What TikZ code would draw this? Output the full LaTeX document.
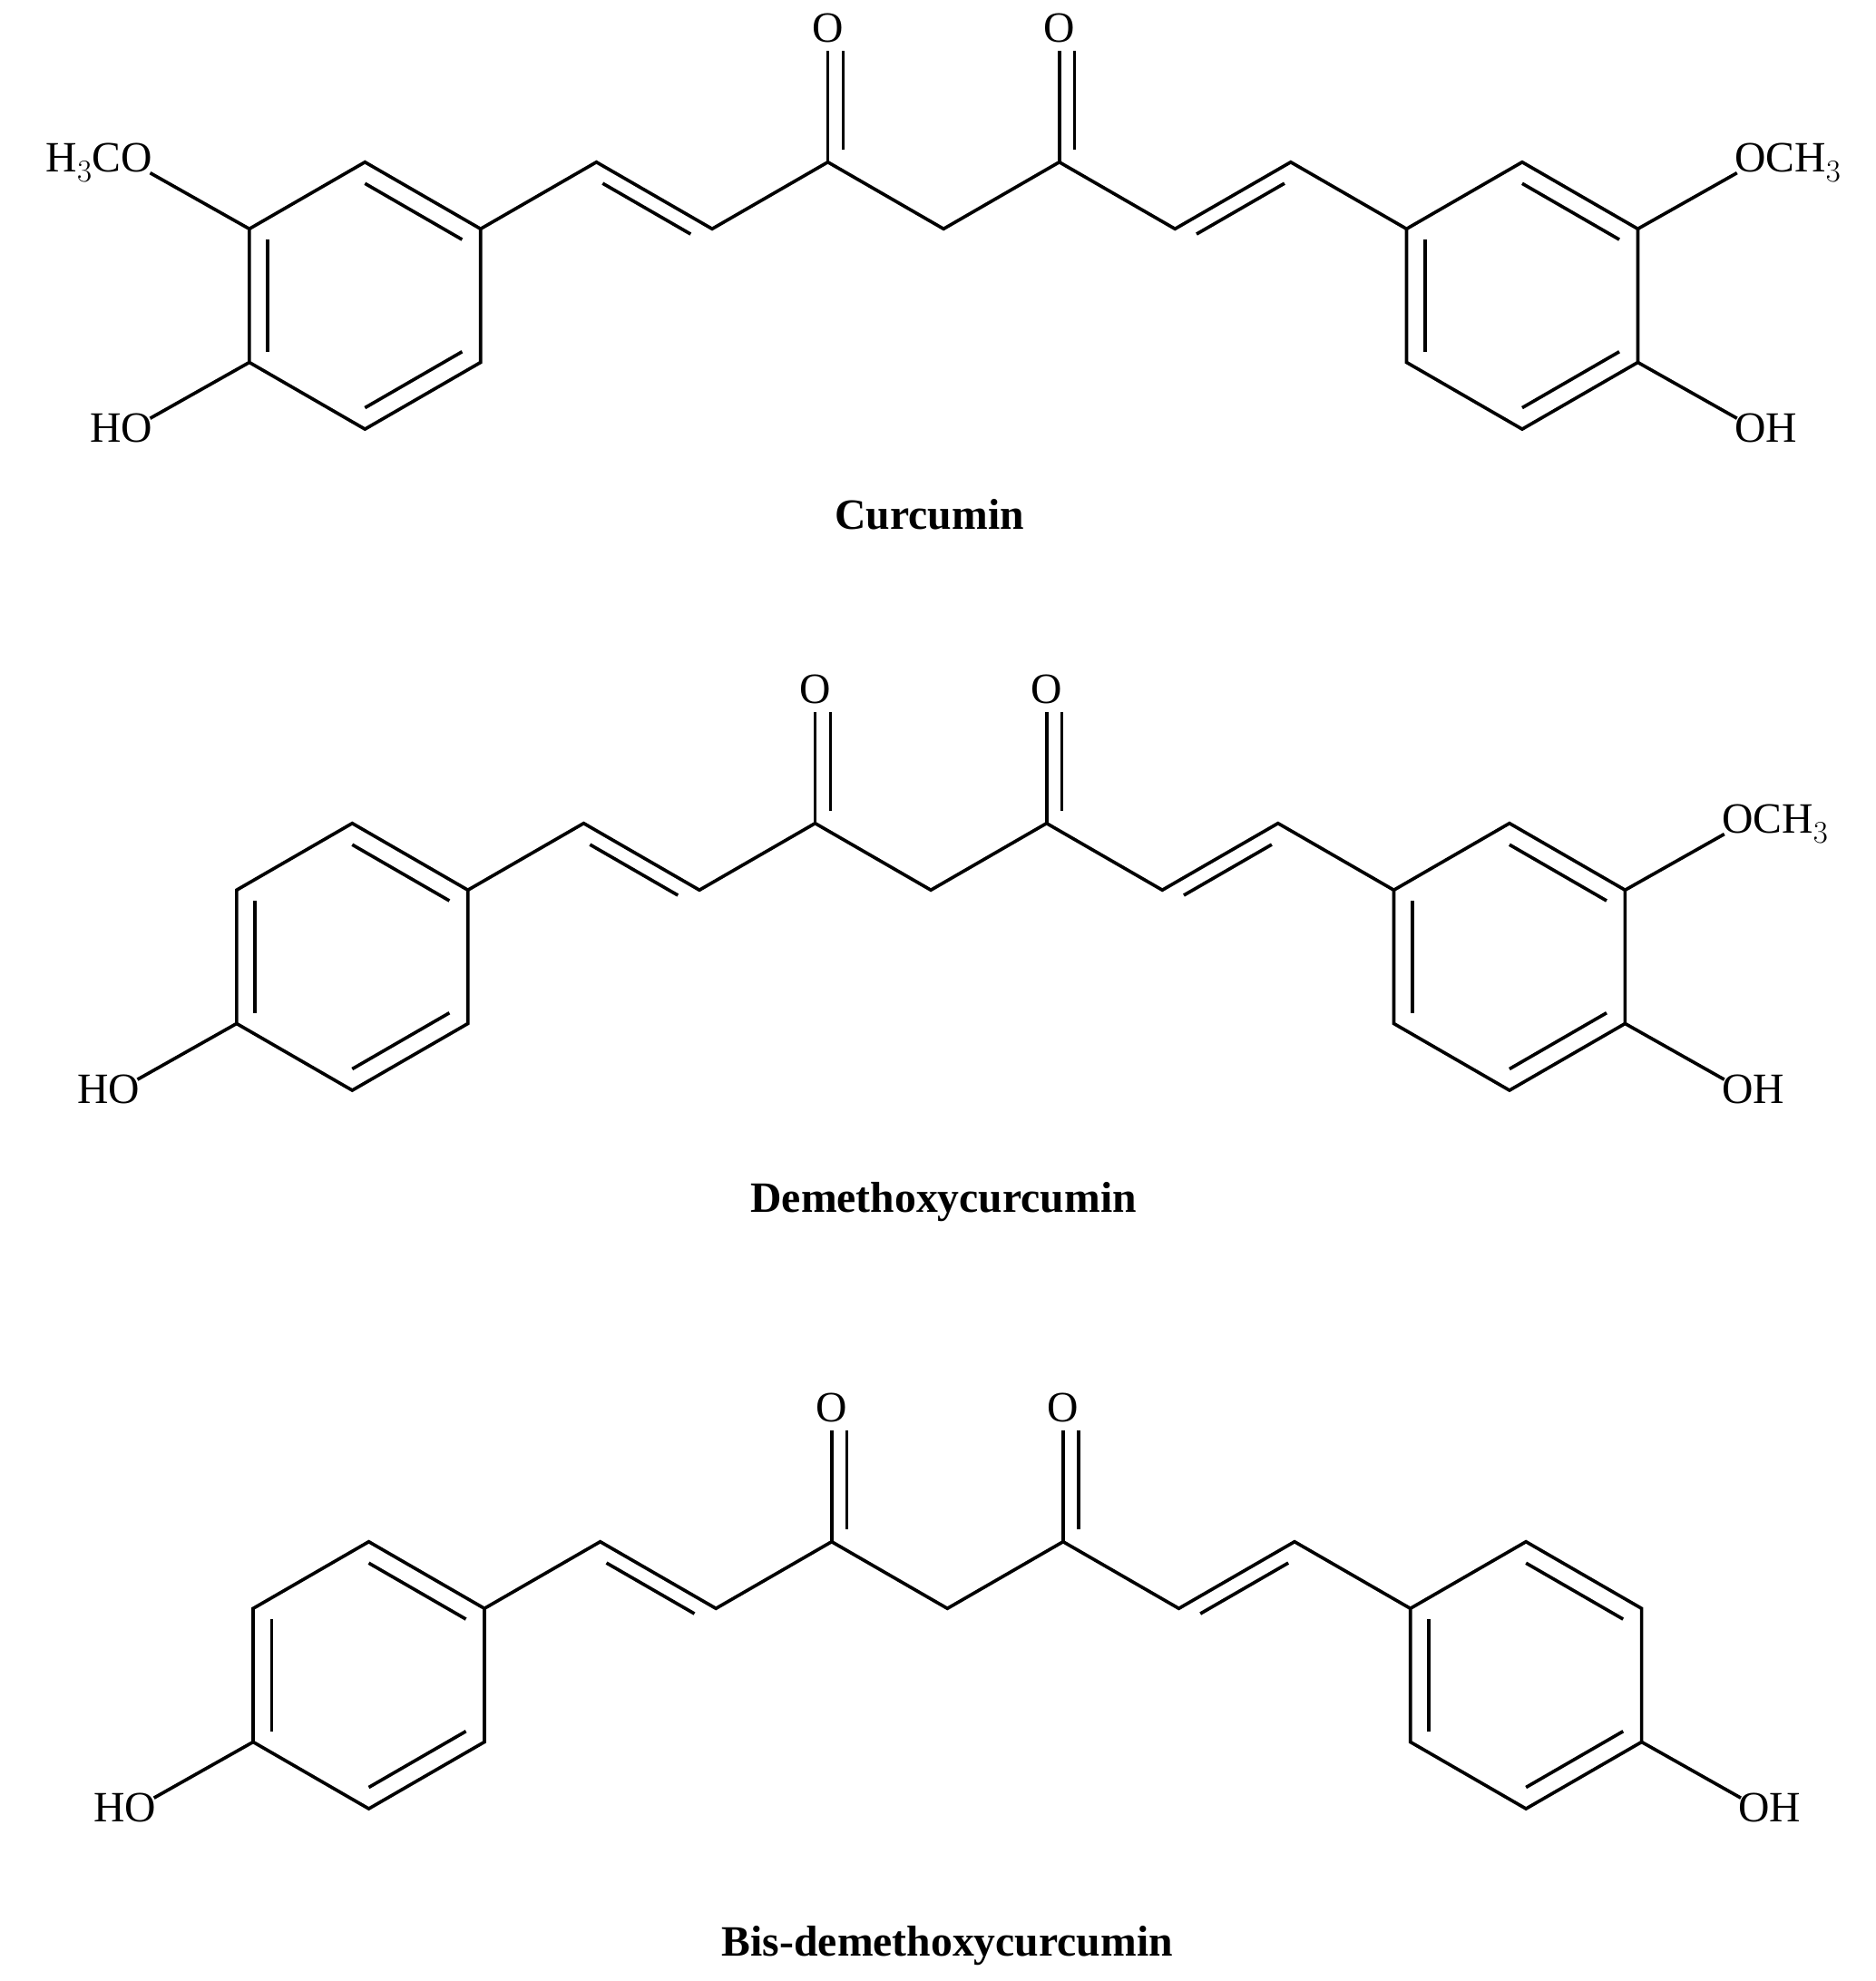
\documentclass[tikz,border=0pt]{standalone}
\usepackage{fontspec}
\setmainfont{Liberation Serif}
\usetikzlibrary{calc}
\newcommand\ringat[2]{% center, name prefix
  \coordinate (#2c) at #1;
  \foreach \a/\n in {30/1,90/2,150/3,210/4,270/5,330/6}{\coordinate (#2\n) at ($(#2c)+(\a:105)$);}
}
\newcommand\innerb[3]{\draw[bond] ($(#1)!0.84!(#2)$) -- ($(#1)!0.84!(#3)$);}
\newcommand\curcmol[3]{%
\begin{scope}[shift={#1}]
  \ringat{(287,-232.5)}{L}
  \ringat{(1197,-232.5)}{R}
  \draw[bond] (L1)--(L2)--(L3)--(L4)--(L5)--(L6)--cycle;
  \draw[bond] (R1)--(R2)--(R3)--(R4)--(R5)--(R6)--cycle;
  \innerb{Lc}{L3}{L4}\innerb{Lc}{L1}{L2}\innerb{Lc}{L5}{L6}
  \innerb{Rc}{R3}{R4}\innerb{Rc}{R1}{R2}\innerb{Rc}{R5}{R6}
  \coordinate (a1) at (469,-127.5); \coordinate (a2) at (560,-180);
  \coordinate (k1) at (651,-127.5); \coordinate (m) at (742,-180);
  \coordinate (k2) at (833,-127.5); \coordinate (b1) at (924,-180);
  \coordinate (b2) at (1015,-127.5);
  \coordinate (o1) at (651,-40); \coordinate (o2) at (833,-40);
  \draw[bond] (L1)--(a1)--(a2)--(k1)--(m)--(k2)--(b1)--(b2)--(R3);
  \draw[bond] ($(a1)!0.12!(a2)+(-6,-10.4)$)--($(a1)!0.88!(a2)+(-6,-10.4)$);
  \draw[bond] ($(b1)!0.12!(b2)+(6,-10.4)$)--($(b1)!0.88!(b2)+(6,-10.4)$);
  \draw[bond] (k1)--(o1); \draw[bond] ($(k1)+(12,10)$)--($(o1)+(12,0)$);
  \draw[bond] (k2)--(o2); \draw[bond] ($(k2)+(12,10)$)--($(o2)+(12,0)$);
  \node[lab] (O1) at (651,-22) {O};
  \node[lab] (O2) at (833,-22) {O};
  \coordinate (lh) at ($(L4)+(-78,-44)$);
  \draw[bond] (L4)--(lh); \node[lab,anchor=east,inner sep=0pt] (HOl) at ($(lh)+(2,-8)$) {HO};
  \coordinate (rh) at ($(R6)+(78,-44)$);
  \draw[bond] (R6)--(rh); \node[lab,anchor=west,inner sep=0pt] (HOr) at ($(rh)+(-2,-8)$) {OH};
  \ifnum#2=1
  \coordinate (lm) at ($(L3)+(-78,44)$);
  \draw[bond] (L3)--(lm); \node[lab,anchor=east,inner sep=0pt] (MeL) at ($(lm)+(2,8)$) {H$_3$CO};
  \fi
  \ifnum#3=1
  \coordinate (rm) at ($(R1)+(78,44)$);
  \draw[bond] (R1)--(rm); \node[lab,anchor=west,inner sep=0pt] (MeR) at ($(rm)+(-2,8)$) {OCH$_3$};
  \fi
\end{scope}}
\begin{document}
\begin{tikzpicture}[x=1pt,y=1pt,bond/.style={line width=2.6pt},
  lab/.style={font=\fontsize{34}{38}\selectfont},
  captxt/.style={font=\fontsize{34}{38}\selectfont\bfseries}]
\useasboundingbox (0,0) rectangle (1475,-1558);
\fill[white] (0,0) rectangle (1475,-1558);
\curcmol{(0,0)}{1}{1}
\curcmol{(-10,-520)}{0}{1}
\curcmol{(3,-1085)}{0}{0}
\node[captxt] (c1) at (731,-405) {Curcumin};
\node[captxt] (c2) at (742,-945) {Demethoxycurcumin};
\node[captxt] (c3) at (745,-1530) {Bis-demethoxycurcumin};
\end{tikzpicture}
\end{document}
